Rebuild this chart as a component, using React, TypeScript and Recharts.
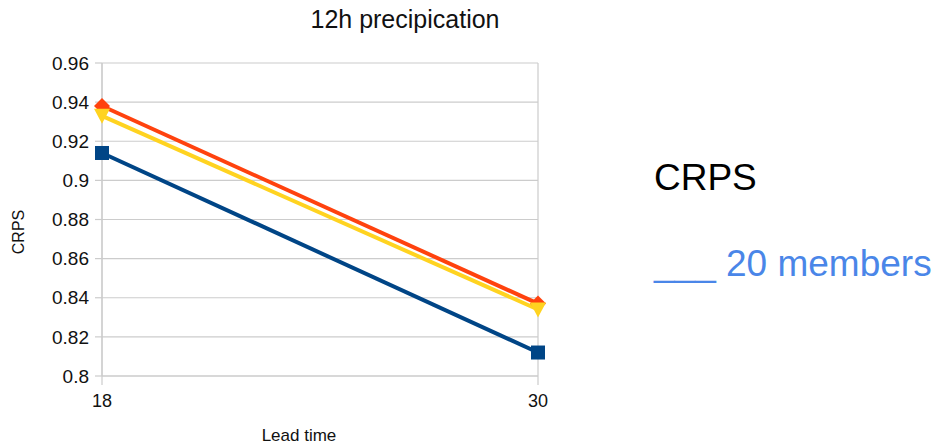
import React from "react";
import { LineChart, Line, XAxis, YAxis, CartesianGrid } from "recharts";

const leadTimes = ["18", "30"];
const blueSeries = [0.914, 0.812];
const orangeSeries = [0.938, 0.837];
const yellowSeries = [0.933, 0.834];
const yTicks = [0.8, 0.82, 0.84, 0.86, 0.88, 0.9, 0.92, 0.94, 0.96];

const data = leadTimes.map((t, i) => ({
  t,
  blue: blueSeries[i],
  orange: orangeSeries[i],
  yellow: yellowSeries[i],
}));

const FONT = "'Liberation Sans', Arial, sans-serif";

const SquareDot = (props: any) => {
  const { cx, cy } = props;
  if (cx == null || cy == null) return null;
  return <rect x={cx - 7} y={cy - 7} width={14} height={14} fill="#004586" />;
};
const DiamondDot = (props: any) => {
  const { cx, cy } = props;
  if (cx == null || cy == null) return null;
  return <polygon points={`${cx},${cy - 8} ${cx + 8},${cy} ${cx},${cy + 8} ${cx - 8},${cy}`} fill="#ff420e" />;
};
const TriDownDot = (props: any) => {
  const { cx, cy } = props;
  if (cx == null || cy == null) return null;
  return <polygon points={`${cx - 8},${cy - 7} ${cx + 8},${cy - 7} ${cx},${cy + 8}`} fill="#ffd320" />;
};

export default function App() {
  return (
    <div style={{ position: "absolute", left: 0, top: 0, width: 938, height: 445, background: "#fff", fontFamily: FONT }}>
      <LineChart
        width={938}
        height={445}
        data={data}
        margin={{ top: 63, right: 400, bottom: 39, left: 42 }}
      >
        <CartesianGrid stroke="#cccccc" strokeWidth={1.2} />
        <XAxis
          dataKey="t"
          height={30}
          axisLine={{ stroke: "#cccccc", strokeWidth: 1.2 }}
          tickLine={{ stroke: "#cccccc", strokeWidth: 1.2 }}
          tickSize={9}
          tick={{ fill: "#111", fontSize: 18, fontFamily: FONT }}
          tickMargin={9}
          label={{ value: "Lead time", position: "bottom", offset: 23, dx: -21, fill: "#111", fontSize: 17, fontFamily: FONT }}
        />
        <YAxis
          width={60}
          domain={[0.8, 0.96]}
          ticks={yTicks}
          interval={0}
          tickFormatter={(v: number) => String(Number(v.toFixed(2)))}
          axisLine={{ stroke: "#cccccc", strokeWidth: 1.2 }}
          tickLine={{ stroke: "#cccccc", strokeWidth: 1.2 }}
          tickSize={7}
          tick={{ fill: "#111", fontSize: 19, fontFamily: FONT }}
          tickMargin={6}
        />
        <Line dataKey="blue" stroke="#004586" strokeWidth={4} dot={<SquareDot />} isAnimationActive={false} />
        <Line dataKey="orange" stroke="#ff420e" strokeWidth={4} dot={<DiamondDot />} isAnimationActive={false} />
        <Line dataKey="yellow" stroke="#ffd320" strokeWidth={4} dot={<TriDownDot />} isAnimationActive={false} />
      </LineChart>
      <div
        style={{
          position: "absolute",
          left: 19,
          top: 232,
          transform: "translate(-50%, -50%) rotate(-90deg)",
          fontSize: 16,
          color: "#111",
          whiteSpace: "nowrap",
        }}
      >
        CRPS
      </div>
      <div style={{ position: "absolute", left: 0, width: 810, top: 5, textAlign: "center", fontSize: 25, color: "#111" }}>
        12h precipication
      </div>
      <div style={{ position: "absolute", left: 654, top: 157, fontSize: 37, color: "#000" }}>CRPS</div>
      <div style={{ position: "absolute", left: 654, top: 243, fontSize: 37, color: "#4a86e8", whiteSpace: "nowrap" }}>
        ___ 20 members
      </div>
    </div>
  );
}
